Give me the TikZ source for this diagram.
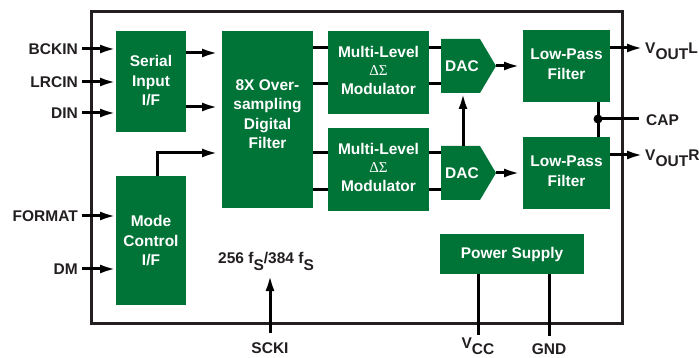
\documentclass[tikz,border=0pt]{standalone}
\usepackage[no-math]{fontspec}
\setmainfont{Liberation Sans}
\newfontfamily\greekserif{Liberation Serif}
\usetikzlibrary{arrows.meta}
\definecolor{adgreen}{RGB}{0,115,55}
\definecolor{framec}{RGB}{35,31,32}
\begin{document}
\begin{tikzpicture}[x=1pt,y=-1pt,
  blk/.style={fill=adgreen,draw=none,inner sep=0pt,outer sep=0pt},
  btxt/.style={text=white,font=\fontsize{15.5}{19.5}\selectfont\bfseries,align=center,inner sep=0pt},
  mtxt/.style={btxt,font=\fontsize{15.5}{18.5}\selectfont\bfseries},
  lbl/.style={font=\fontsize{15.5}{18}\selectfont\bfseries,inner sep=0pt,text=framec},
  wire/.style={line width=3pt,black},
  arr/.style={wire,-{Latex[length=16pt,width=9pt]}},
]
\useasboundingbox (0,0) rectangle (699,358);
% outer frame
\draw[line width=3pt,framec] (91,12) rectangle (622,323);

% blocks
\node[blk,minimum width=70pt,minimum height=101pt] (serial) at (151,81.5) {};
\node[btxt] (serialT) at (151,81) {Serial\\Input\\I/F};
\node[blk,minimum width=91pt,minimum height=177pt] (filt) at (267.5,119.5) {};
\node[btxt] (filtT) at (267.5,114) {8X Over-\\sampling\\Digital\\Filter};
\node[blk,minimum width=70pt,minimum height=129pt] (mode) at (151,240.5) {};
\node[btxt] (modeT) at (151,241) {Mode\\Control\\I/F};
\node[blk,minimum width=101pt,minimum height=83pt] (modA) at (378.5,72.5) {};
\node[mtxt] (modAT) at (378.5,70) {Multi-Level\\{\greekserif\mdseries\fontsize{15}{15}\selectfont ΔΣ}\\Modulator};
\node[blk,minimum width=101pt,minimum height=83pt] (modB) at (378.5,169.5) {};
\node[mtxt] (modBT) at (378.5,167) {Multi-Level\\{\greekserif\mdseries\fontsize{15}{15}\selectfont ΔΣ}\\Modulator};
\fill[adgreen] (441,39) -- (480,39) -- (496,66) -- (480,93) -- (441,93) -- cycle;
\node[btxt] (dacA) at (462,66) {DAC};
\fill[adgreen] (441,146) -- (480,146) -- (496,173) -- (480,200) -- (441,200) -- cycle;
\node[btxt] (dacB) at (462,173) {DAC};
\coordinate (dacAtip) at (496,66);
\coordinate (dacBtip) at (496,173);
\coordinate (dacAbot) at (463,93);
\coordinate (dacBtop) at (463,146);
\coordinate (dacAin) at (441,66);
\coordinate (dacBin) at (441,173);
\node[blk,minimum width=87pt,minimum height=72pt] (lpfA) at (566.5,66) {};
\node[btxt] (lpfAT) at (566.5,64) {Low-Pass\\Filter};
\node[blk,minimum width=87pt,minimum height=72pt] (lpfB) at (566.5,173) {};
\node[btxt] (lpfBT) at (566.5,171) {Low-Pass\\Filter};
\node[blk,minimum width=144pt,minimum height=40pt] (pwr) at (512,254) {};
\node[btxt] (pwrT) at (512,254) {Power Supply};

% left inputs
\node[lbl,anchor=east] (bckin) at (78,49) {BCKIN};
\node[lbl,anchor=east] (lrcin) at (78,82) {LRCIN};
\node[lbl,anchor=east] (din) at (78,113) {DIN};
\node[lbl,anchor=east] (format) at (78,216) {FORMAT};
\node[lbl,anchor=east] (dm) at (78,269) {DM};
\foreach \n/\b in {bckin/serial,lrcin/serial,din/serial,format/mode,dm/mode}
  \draw[arr] ([xshift=4pt]\n.east) -- (\n.east -| \b.west);

% serial -> filter
\draw[arr,shorten >=4pt] (serial.east |- 0,53) -- (filt.west |- 0,53);
\draw[arr,shorten >=4pt] (serial.east |- 0,107) -- (filt.west |- 0,107);
% mode -> filter
\draw[arr,shorten >=4pt] ([xshift=6pt]mode.north) |- (filt.west |- 0,153);

% filter -> modulators -> DACs
\foreach \yy in {48,84} {
  \draw[wire] (filt.east |- 0,\yy) -- (modA.west |- 0,\yy);
  \draw[wire] (modA.east |- 0,\yy) -- (dacAin |- 0,\yy);
}
\foreach \yy in {153,190} {
  \draw[wire] (filt.east |- 0,\yy) -- (modB.west |- 0,\yy);
  \draw[wire] (modB.east |- 0,\yy) -- (dacBin |- 0,\yy);
}
% DAC B -> DAC A
\draw[arr] (dacBtop) -- (dacAbot);
% DACs -> LPFs
\draw[arr,shorten >=3pt] (dacAtip) -- (dacAtip -| lpfA.west);
\draw[arr,shorten >=3pt] (dacBtip) -- (dacBtip -| lpfB.west);

% outputs
\node[lbl,anchor=base west] (voutl) at (645,54) {V\raisebox{-6pt}{OUT}L};
\node[lbl,anchor=base west] (voutr) at (645,161) {V\raisebox{-6pt}{OUT}R};
\draw[arr,shorten >=2pt] (lpfA.east |- 0,48) -- (voutl.west |- 0,48);
\draw[arr,shorten >=2pt] (lpfB.east |- 0,155) -- (voutr.west |- 0,155);

% CAP
\coordinate (capj) at (598,119);
\node[lbl,anchor=base west] (cap) at (646,126) {CAP};
\draw[wire] (lpfA.south -| capj) -- (lpfB.north -| capj);
\fill[black] (capj) circle (4.5pt);
\draw[wire] (capj) -- ([xshift=-7pt]cap.west |- capj);

% clock
\node[lbl,anchor=base west] (fs) at (218,264) {256 f\raisebox{-6pt}{S}/384 f\raisebox{-6pt}{S}};
\node[lbl,anchor=base] (scki) at (270,353) {SCKI};
\coordinate (sckitip) at (270,275);
\draw[arr] ([yshift=9pt]scki.north) -- (sckitip);

% power
\node[lbl,anchor=base] (vcc) at (478,348.5) {V\raisebox{-6pt}{CC}};
\node[lbl,anchor=base] (gnd) at (549,354.5) {GND};
\draw[wire] (vcc.north |- pwr.south) -- ([yshift=3pt]vcc.north);
\draw[wire] (gnd.north |- pwr.south) -- ([yshift=7pt]gnd.north);
\end{tikzpicture}
\end{document}
